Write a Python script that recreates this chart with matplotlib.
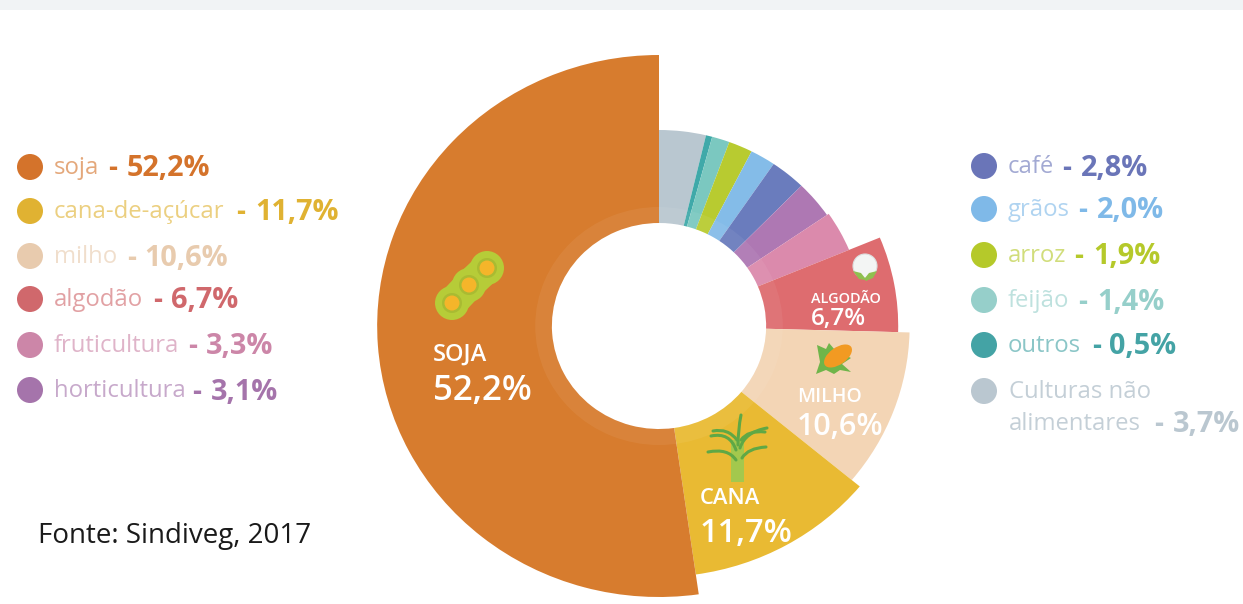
import numpy as np
import matplotlib
matplotlib.use("Agg")
import matplotlib.pyplot as plt
from matplotlib.patches import Wedge, Circle, Ellipse, Polygon, PathPatch, Rectangle
from matplotlib.path import Path

plt.rcParams['font.family'] = ['Open Sans', 'DejaVu Sans']

# Slices, clockwise from 12 o'clock
crops = ["Culturas não alimentares", "outros", "feijão", "arroz", "grãos", "café",
         "horticultura", "fruticultura", "algodão", "milho", "cana", "soja"]
shares = [3.7, 0.5, 1.4, 1.9, 2.0, 2.8, 3.1, 3.3, 6.7, 10.6, 11.7, 52.2]
outer_r = [196, 196, 196, 196, 196, 196, 196, 198, 230, 241, 251, 271]
slice_colors = ["#b9c7d0", "#3fa9a9", "#7bc8c0", "#b8cb30", "#84bce8", "#6a7cbd",
                "#ae78b3", "#db8aac", "#de6c6f", "#f3d5b5", "#e9ba33", "#d77c2e"]

left_labels = ["soja", "cana-de-açúcar", "milho", "algodão", "fruticultura", "horticultura"]
left_values = ["52,2%", "11,7%", "10,6%", "6,7%", "3,3%", "3,1%"]
left_colors = ["#d4732b", "#e0b232", "#e8cbae", "#d0686c", "#cc86a8", "#a574ab"]
left_y = [167, 211, 256, 299, 345, 390]
left_dash_x = [108, 236, 127, 153, 188, 192]
left_value_x = [127, 255, 144, 171, 206, 211]

right_labels = ["café", "grãos", "arroz", "feijão", "outros"]
right_values = ["2,8%", "2,0%", "1,9%", "1,4%", "0,5%"]
right_colors = ["#6a75b8", "#7fb9e8", "#b5c92a", "#96cfca", "#44a3a5"]
right_y = [166, 209, 255, 300, 345]
right_dash_x = [1062, 1078, 1074, 1078, 1092]
right_value_x = [1081, 1097, 1093, 1097, 1109]

W, H = 1243, 604
CX, CY = 659, 326
STRETCH = 1.04  # the source picture is a bit wider than tall
HOLE = 103
RING = 119

fig = plt.figure(figsize=(W / 100, H / 100), dpi=100)

# donut axes, same centre as the picture but stretched in x
pie_ax = fig.add_axes([0, 0, 1, 1])
pie_ax.set_xlim(-CX / STRETCH, (W - CX) / STRETCH)
pie_ax.set_ylim(-(H - CY), CY)
pie_ax.axis("off")

total = sum(shares)
start = 90.0
for share, r, col in zip(shares, outer_r, slice_colors):
    sweep = share / total * 360
    pie_ax.add_patch(Wedge((0, 0), r, start - sweep, start, width=r - HOLE,
                           facecolor=col, edgecolor="none"))
    start -= sweep
pie_ax.add_patch(Wedge((0, 0), RING, 0, 360, width=RING - HOLE,
                       facecolor="white", alpha=0.06, edgecolor="none"))

# everything else in picture pixels
ax = fig.add_axes([0, 0, 1, 1])
ax.set_xlim(0, W)
ax.set_ylim(H, 0)
ax.axis("off")
ax.patch.set_alpha(0)

ax.add_patch(Rectangle((0, 0), W, 10, facecolor="#f1f3f5", edgecolor="none"))


def legend_row(x, y, label, value, col, dash_x, value_x, dot=True, label_alpha=0.62):
    if dot:
        ax.add_patch(Circle((x, y), 13, facecolor=col, edgecolor="none"))
    ax.text(x + 24, y + 1, label, color=col, alpha=label_alpha, fontsize=17.2, va="center", ha="left")
    ax.text(dash_x, y + 2, "-", color=col, fontsize=20, fontweight="bold", va="center", ha="left")
    ax.text(value_x, y + 2, value, color=col, fontsize=20.8, fontweight="bold", va="center", ha="left")


for row in zip(left_y, left_labels, left_values, left_colors, left_dash_x, left_value_x):
    legend_row(30, *row)
for row in zip(right_y, right_labels, right_values, right_colors, right_dash_x, right_value_x):
    legend_row(984, *row)

# last row on the right wraps over two lines
ax.add_patch(Circle((984, 391), 13, facecolor="#bac7d0", edgecolor="none"))
ax.text(1009, 392, "Culturas não", color="#bac7d0", alpha=0.85, fontsize=17.2, va="center")
legend_row(985, 423, "alimentares", "3,7%", "#bac7d0", 1154, 1173, dot=False, label_alpha=0.85)

ax.text(38, 536, "Fonte: Sindiveg, 2017", color="#1a1a1a", fontsize=20, va="center")


def inner_label(x, y1, y2, name, value, size1, size2):
    ax.text(x, y1, name, color="white", fontsize=size1, fontweight="semibold", va="center")
    ax.text(x, y2, value, color="white", fontsize=size2, fontweight="semibold", va="center")


inner_label(433, 355, 391, "SOJA", "52,2%", 17, 25)
inner_label(700, 499, 533, "CANA", "11,7%", 15.8, 23.5)
inner_label(797, 397, 427, "MILHO", "10,6%", 14, 22)
inner_label(811, 299, 319, "ALGODÃO", "6,7%", 10.4, 17.5)

# soy pod icon
pod_x = [452, 469, 487]
pod_y = [303, 285, 268]
ax.plot(pod_x, pod_y, color="#b6cc38", lw=22, solid_capstyle="round", zorder=0.5)
for cx, cy in zip(pod_x, pod_y):
    ax.add_patch(Circle((cx, cy), 17, facecolor="#b6cc38", edgecolor="none"))
for cx, cy in zip(pod_x, pod_y):
    ax.add_patch(Circle((cx, cy), 10, facecolor="#a9bb32", edgecolor="none"))
    ax.add_patch(Circle((cx, cy), 7.5, facecolor="#f5b52a", edgecolor="none"))

# cotton icon
ax.add_patch(Circle((865, 266), 12, facecolor="#f3f5f4", edgecolor="#dcdfdf", lw=0.8))
ax.add_patch(Polygon([[853, 271], [861, 273], [865, 278], [869, 273], [877, 271], [873, 278],
                      [866, 281], [865, 280], [859, 279]],
                     facecolor="#8fc04f", edgecolor="none"))

# corn icon
ax.add_patch(Polygon([[817, 345], [826, 349], [829, 343], [835, 350], [851, 358], [842, 364],
                      [851, 372], [840, 370], [834, 374], [826, 370], [816, 374], [820, 362]],
                     facecolor="#6fb54a", edgecolor="none"))
ax.add_patch(Ellipse((838, 356), 32, 17, angle=-35, facecolor="#f29a22", edgecolor="none"))

# sugar cane icon
ax.add_patch(Rectangle((731, 440), 13, 42, facecolor="#a3c84d", edgecolor="none"))
for p0, p1, p2 in [((738, 445), (738, 430), (741, 415)),
                   ((736, 450), (730, 432), (711, 436)),
                   ((736, 460), (728, 448), (708, 452)),
                   ((740, 448), (745, 432), (767, 428)),
                   ((742, 458), (748, 448), (766, 447)),
                   ((737, 440), (728, 428), (713, 431)),
                   ((741, 440), (748, 430), (765, 432))]:
    cane = Path([p0, p1, p2], [Path.MOVETO, Path.CURVE3, Path.CURVE3])
    ax.add_patch(PathPatch(cane, facecolor="none", edgecolor="#5fa845", lw=2.2, capstyle="round"))

fig.savefig("out.png", dpi=100, facecolor="white")
